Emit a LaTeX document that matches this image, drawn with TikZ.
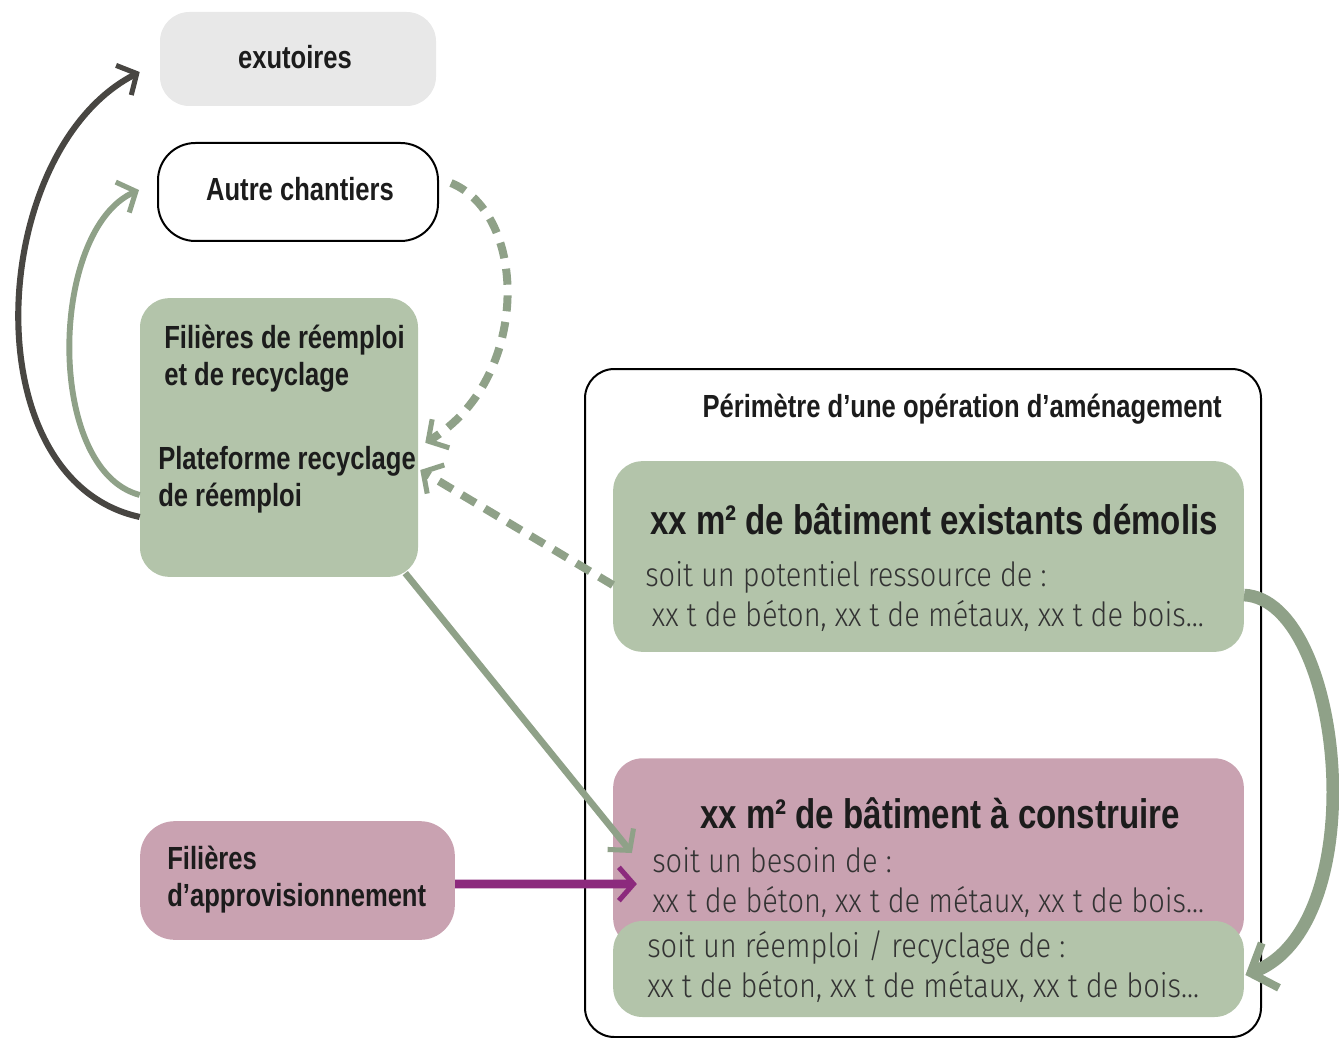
\documentclass[tikz,border=0pt]{standalone}
\usepackage{fontspec}
\setmainfont[FakeStretch=0.8]{Liberation Sans}
\newfontfamily\lightfont[FakeStretch=0.87]{Fira Sans Light}
\usetikzlibrary{arrows.meta}

\definecolor{boxgreen}{RGB}{179,196,170}
\definecolor{arrgreen}{RGB}{143,161,136}
\definecolor{boxpink}{RGB}{201,162,177}
\definecolor{arrpurple}{RGB}{140,42,125}
\definecolor{boxgray}{RGB}{232,232,232}
\definecolor{arrdark}{RGB}{72,70,66}
\definecolor{txtdark}{RGB}{28,28,28}

\tikzset{
  box/.style={rounded corners=22pt, inner sep=0pt},
  lbl/.style={inner sep=0pt, align=left, text=txtdark,
    font=\fontsize{24pt}{27.75pt}\selectfont\bfseries},
  ttl/.style={inner sep=0pt, text=txtdark,
    font=\fontsize{31pt}{34pt}\selectfont\bfseries},
  body/.style={inner sep=0pt, align=left, text=black!80,
    font=\fontsize{25pt}{30pt}\selectfont\lightfont},
  barb/.style={-{Straight Barb[length=11pt,width=25pt,line width=3.8pt]}},
  bigbarb/.style={-{Straight Barb[length=16pt,width=36pt,line width=6pt]}},
}

\begin{document}
\begin{tikzpicture}[x=0.75pt,y=-0.75pt]
   \useasboundingbox (0,0) rectangle (1339,1038);

   % boxes
   \node[box, fill=boxgray, minimum width=207pt, minimum height=70.5pt] (exut) at (298,59) {};
   \node[box, draw, line width=1.5pt, rounded corners=28pt, minimum width=210pt, minimum height=73.5pt] (autre) at (298,192) {};
   \node[box, fill=boxgreen, minimum width=208.5pt, minimum height=209pt] (filieres) at (279,437.5) {};
   \node[box, fill=boxpink, rounded corners=26pt, minimum width=236pt, minimum height=89pt] (appro) at (297.5,880.5) {};
   \node[box, draw, line width=1.5pt, minimum width=507pt, minimum height=501pt] (perim) at (923,703) {};
   \node[box, fill=boxgreen, minimum width=473pt, minimum height=143pt] (demolis) at (928.5,556.5) {};
   \node[box, fill=boxpink, minimum width=473pt, minimum height=142pt] (construire) at (928.5,853) {};
   \node[box, fill=boxgreen, minimum width=473pt, minimum height=72pt] (reemploi) at (928.5,969) {};

   % texts
   \node[lbl] (exuttxt) at (295,57) {exutoires};
   \node[lbl] (autretxt) at (300,189) {Autre chantiers};
   \node[lbl, anchor=west] (filtxt) at (164,358.5) {Filières de réemploi\\et de recyclage};
   \node[lbl, anchor=west] (plateforme) at (158,480) {Plateforme recyclage\\de réemploi};
   \node[lbl, anchor=west] (approtxt) at (167,879.5) {Filières\\d’approvisionnement};
   \node[lbl, anchor=east] (perimtxt) at (1222,409) {Périmètre d’une opération d’aménagement};
   \node[ttl] (demtitle) at (934,519) {xx m² de bâtiment existants démolis};
   \node[body, anchor=west] (demtxt) at (645,596) {soit un potentiel ressource de :\\\hspace*{5pt}xx t de béton, xx t de métaux, xx t de bois...};
   \node[ttl] (contitle) at (940,813) {xx m² de bâtiment à construire};
   \node[body, anchor=west] (contxt) at (652,882.5) {soit un besoin de :\\xx t de béton, xx t de métaux, xx t de bois...};
   \node[body, anchor=west] (reetxt) at (647,966.5) {soit un réemploi / recyclage de :\\xx t de béton, xx t de métaux, xx t de bois...};

   % flows
   \draw[barb, arrdark, line width=4.6pt]
     ([yshift=-59.6pt]filieres.west) .. controls +(-170,-37) and +(-152,78) .. ([xshift=-15pt,yshift=-9.75pt]exut.west);
   \draw[barb, arrgreen, line width=4.4pt]
     ([yshift=-43.1pt]filieres.west) .. controls +(-95,-25) and +(-90,40) .. ([xshift=-13.5pt,yshift=1.5pt]autre.west);
   \draw[barb, arrgreen, line width=6pt, dash pattern=on 12pt off 8pt]
     ([xshift=9pt,yshift=6.75pt]autre.east) .. controls +(78,32) and +(105,-63) .. ([xshift=5.25pt,yshift=-4pt]filieres.east);
   \draw[barb, arrgreen, line width=6pt, dash pattern=on 12pt off 8pt]
     ([yshift=-21.4pt]demolis.west) -- ([xshift=1.5pt,yshift=-24.4pt]filieres.east);
   \draw[barb, arrgreen, line width=5pt]
     ([xshift=-9.75pt,yshift=3pt]filieres.south east) -- ([xshift=14.25pt]construire.west);
   \draw[barb, arrpurple, line width=6.5pt]
     ([yshift=-2.6pt]appro.east) -- ([xshift=18pt,yshift=-23.25pt]construire.west);
   \draw[bigbarb, arrgreen, line width=9.5pt]
     ([yshift=-28.9pt]demolis.east) .. controls +(100,5) and +(130,-50) .. ([xshift=1pt,yshift=-4.5pt]reemploi.east);

\end{tikzpicture}
\end{document}
